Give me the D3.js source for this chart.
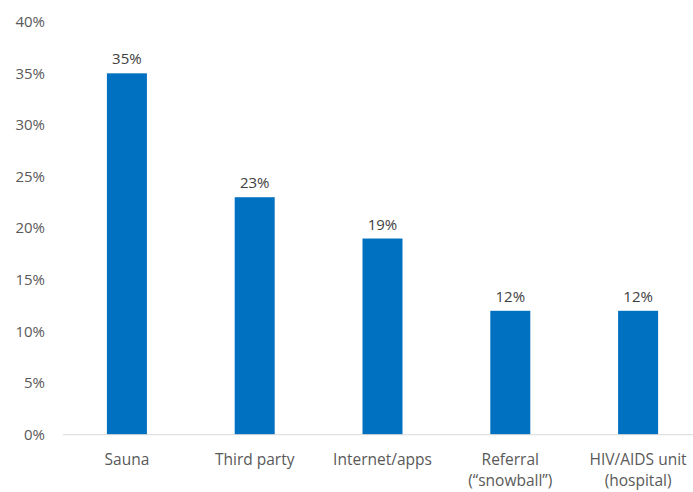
<!DOCTYPE html>
<html>
<head>
<meta charset="utf-8">
<script src="https://cdn.jsdelivr.net/npm/d3@7.9.0/dist/d3.min.js"></script>
<style>
  body { margin: 0; background: #fff; }
  svg { display: block; font-family: "Open Sans", sans-serif; }
</style>
</head>
<body>
<div id="chart"></div>
<script>
const categories = [["Sauna"], ["Third party"], ["Internet/apps"], ["Referral", "(\u201csnowball\u201d)"], ["HIV/AIDS unit", "(hospital)"]];
const values = [35, 23, 19, 12, 12];
const yTicks = [0, 5, 10, 15, 20, 25, 30, 35, 40];

const width = 693, height = 492;
const svg = d3.select("#chart").append("svg")
  .attr("width", width)
  .attr("height", height);

const x = d3.scaleBand()
  .domain(d3.range(categories.length))
  .range([63, 702])
  .paddingInner(0.687)
  .paddingOuter(0.3435);

const y = d3.scaleLinear().domain([0, 40]).range([434.7, 21.7]);

// y tick labels
svg.append("g")
  .selectAll("text")
  .data(yTicks)
  .join("text")
  .attr("x", 45)
  .attr("y", d => y(d))
  .attr("dy", "0.35em")
  .attr("text-anchor", "end")
  .attr("fill", "#595959")
  .attr("font-size", 15)
  .text(d => d + "%");

// bars
svg.append("g")
  .selectAll("rect")
  .data(values)
  .join("rect")
  .attr("x", (d, i) => x(i))
  .attr("y", d => y(d))
  .attr("width", x.bandwidth())
  .attr("height", d => y(0) - y(d))
  .attr("fill", "#0070c0");

// axis line
svg.append("line")
  .attr("x1", 63).attr("x2", width)
  .attr("y1", y(0)).attr("y2", y(0))
  .attr("stroke", "#d9d9d9")
  .attr("stroke-width", 1);

// data labels
svg.append("g")
  .selectAll("text")
  .data(values)
  .join("text")
  .attr("x", (d, i) => x(i) + x.bandwidth() / 2)
  .attr("y", d => y(d) - 9)
  .attr("text-anchor", "middle")
  .attr("fill", "#404040")
  .attr("font-size", 15)
  .text(d => d + "%");

// category labels
const cat = svg.append("g")
  .selectAll("text")
  .data(categories)
  .join("text")
  .attr("x", (d, i) => x(i) + x.bandwidth() / 2)
  .attr("y", 465)
  .attr("text-anchor", "middle")
  .attr("fill", "#595959")
  .attr("font-size", 15.5);

cat.selectAll("tspan")
  .data(d => d)
  .join("tspan")
  .attr("x", function () { return this.parentNode.getAttribute("x"); })
  .attr("dy", (d, i) => i === 0 ? 0 : 21)
  .text(d => d);
</script>
</body>
</html>
